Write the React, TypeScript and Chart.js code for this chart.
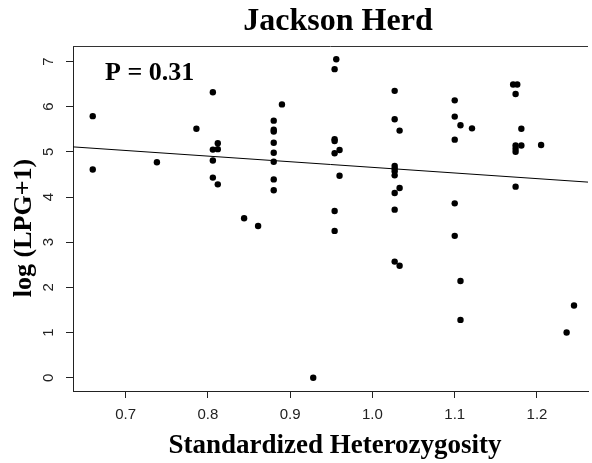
import React, { useEffect, useRef } from "react";
import { Chart, registerables } from "chart.js";

Chart.register(...registerables);

// Standardized heterozygosity (x) and log(LPG+1) (y)
const heteroX: number[] = [
  0.660, 0.660, 0.738, 0.786, 0.806, 0.812, 0.806, 0.812, 0.806, 0.806,
  0.812, 0.844, 0.861, 0.890, 0.880, 0.880, 0.880, 0.880, 0.880, 0.880,
  0.880, 0.880, 0.928, 0.956, 0.954, 0.954, 0.954, 0.960, 0.954, 0.960,
  0.954, 0.954, 1.027, 1.027, 1.033, 1.027, 1.027, 1.027, 1.027, 1.033,
  1.027, 1.027, 1.027, 1.033, 1.100, 1.100, 1.107, 1.121, 1.100, 1.100,
  1.100, 1.107, 1.107, 1.171, 1.176, 1.174, 1.181, 1.174, 1.181, 1.174,
  1.174, 1.205, 1.174, 1.245, 1.236,
];
const lpgY: number[] = [
  5.79, 4.61, 4.77, 5.51, 6.32, 5.19, 5.05, 5.06, 4.81, 4.43,
  4.28, 3.53, 3.36, 6.05, 5.69, 5.49, 5.45, 5.20, 4.98, 4.78,
  4.39, 4.15, 0.00, 7.05, 6.83, 5.28, 5.24, 5.04, 4.97, 4.47,
  3.69, 3.25, 6.35, 5.72, 5.47, 4.69, 4.63, 4.57, 4.48, 4.20,
  4.09, 3.72, 2.57, 2.48, 6.14, 5.78, 5.59, 5.52, 5.27, 3.86,
  3.14, 2.14, 1.28, 6.49, 6.49, 6.28, 5.51, 5.14, 5.14, 5.07,
  5.00, 5.15, 4.23, 1.60, 1.00,
];

// Fitted regression line end points
const fitX: number[] = [0.636, 1.262];
const fitY: number[] = [5.11, 4.33];

const xTickValues: number[] = [0.7, 0.8, 0.9, 1.0, 1.1, 1.2];
const xTickLabels: string[] = ["0.7", "0.8", "0.9", "1.0", "1.1", "1.2"];
const yTickValues: number[] = [0, 1, 2, 3, 4, 5, 6, 7];
const yTickLabels: string[] = ["0", "1", "2", "3", "4", "5", "6", "7"];

const titleText = "Jackson Herd";
const xTitle = "Standardized Heterozygosity";
const yTitle = "log (LPG+1)";
const pText = "P = 0.31";

const SERIF = '"Liberation Serif", "Times New Roman", serif';
const SANS = '"Liberation Sans", Arial, sans-serif';

const textPlugin = {
  id: "rText",
  afterDraw(chart: any) {
    const ctx = chart.ctx as CanvasRenderingContext2D;
    const area = chart.chartArea;
    const xs = chart.scales.x;
    const ys = chart.scales.y;
    ctx.save();
    // top border of the box
    ctx.strokeStyle = "#333";
    ctx.lineWidth = 1;
    ctx.beginPath();
    ctx.moveTo(area.left, Math.round(area.top) + 0.5);
    ctx.lineTo(area.right, Math.round(area.top) + 0.5);
    ctx.stroke();

    ctx.fillStyle = "#000";
    // title
    ctx.font = `bold 32px ${SERIF}`;
    ctx.textAlign = "center";
    ctx.textBaseline = "alphabetic";
    ctx.fillText(titleText, 338, 30);

    // P label
    ctx.font = `bold 26px ${SERIF}`;
    ctx.textAlign = "left";
    ctx.fillText(pText, 105, 80);

    // x title
    ctx.font = `bold 27px ${SERIF}`;
    ctx.textAlign = "center";
    ctx.fillText(xTitle, 335, 453);

    // y title
    ctx.font = `bold 26px ${SERIF}`;
    ctx.save();
    ctx.translate(24, 228);
    ctx.rotate(-Math.PI / 2);
    ctx.textAlign = "center";
    ctx.textBaseline = "middle";
    ctx.fillText(yTitle, 0, 0);
    ctx.restore();

    // x tick labels
    ctx.fillStyle = "#222";
    ctx.font = `15px ${SANS}`;
    ctx.textAlign = "center";
    ctx.textBaseline = "middle";
    xTickValues.forEach((v, i) => {
      ctx.fillText(xTickLabels[i], xs.getPixelForValue(v), 415);
    });

    // y tick labels (rotated)
    yTickValues.forEach((v, i) => {
      const py = ys.getPixelForValue(v);
      ctx.save();
      ctx.translate(48.5, py);
      ctx.rotate(-Math.PI / 2);
      ctx.textAlign = "center";
      ctx.textBaseline = "middle";
      ctx.fillText(yTickLabels[i], 0, 0);
      ctx.restore();
    });
    ctx.restore();
  },
};

export default function App() {
  const canvasRef = useRef<HTMLCanvasElement | null>(null);

  useEffect(() => {
    const canvas = canvasRef.current;
    if (!canvas) return;
    const points = heteroX.map((x, i) => ({ x, y: lpgY[i] }));
    const fit = fitX.map((x, i) => ({ x, y: fitY[i] }));
    const chart = new Chart(canvas, {
      type: "scatter",
      data: {
        datasets: [
          {
            type: "line",
            data: fit,
            borderColor: "#000",
            borderWidth: 1,
            pointRadius: 0,
            fill: false,
          } as any,
          {
            type: "scatter",
            data: points,
            backgroundColor: "#000",
            borderWidth: 0,
            pointRadius: 3.2,
          },
        ],
      },
      options: {
        responsive: false,
        animation: false,
        devicePixelRatio: 1,
        layout: { padding: { top: 46, left: 0, right: 0, bottom: 0 } },
        plugins: {
          legend: { display: false },
          tooltip: { enabled: false },
          title: { display: false },
        },
        scales: {
          x: {
            type: "linear",
            min: 0.636,
            max: 1.262,
            afterBuildTicks: (s: any) => {
              s.ticks = xTickValues.map((v) => ({ value: v }));
            },
            afterFit: (s: any) => {
              s.height = 72;
            },
            ticks: { display: false },
            grid: {
              drawOnChartArea: false,
              drawTicks: true,
              tickLength: 7,
              color: "#222",
              lineWidth: 1,
            },
            border: { display: true, color: "#222", width: 1 },
          },
          y: {
            type: "linear",
            min: -0.294,
            max: 7.343,
            afterBuildTicks: (s: any) => {
              s.ticks = yTickValues.map((v) => ({ value: v }));
            },
            afterFit: (s: any) => {
              s.width = 73;
            },
            ticks: { display: false },
            grid: {
              drawOnChartArea: false,
              drawTicks: true,
              tickLength: 7,
              color: "#222",
              lineWidth: 1,
            },
            border: { display: true, color: "#222", width: 1 },
          },
        },
      },
      plugins: [textPlugin],
    });
    return () => chart.destroy();
  }, []);

  return (
    <div style={{ position: "fixed", left: 0, top: 0, width: 592, height: 463, background: "#fff" }}>
      <canvas ref={canvasRef} width={592} height={463} style={{ display: "block" }} />
    </div>
  );
}
